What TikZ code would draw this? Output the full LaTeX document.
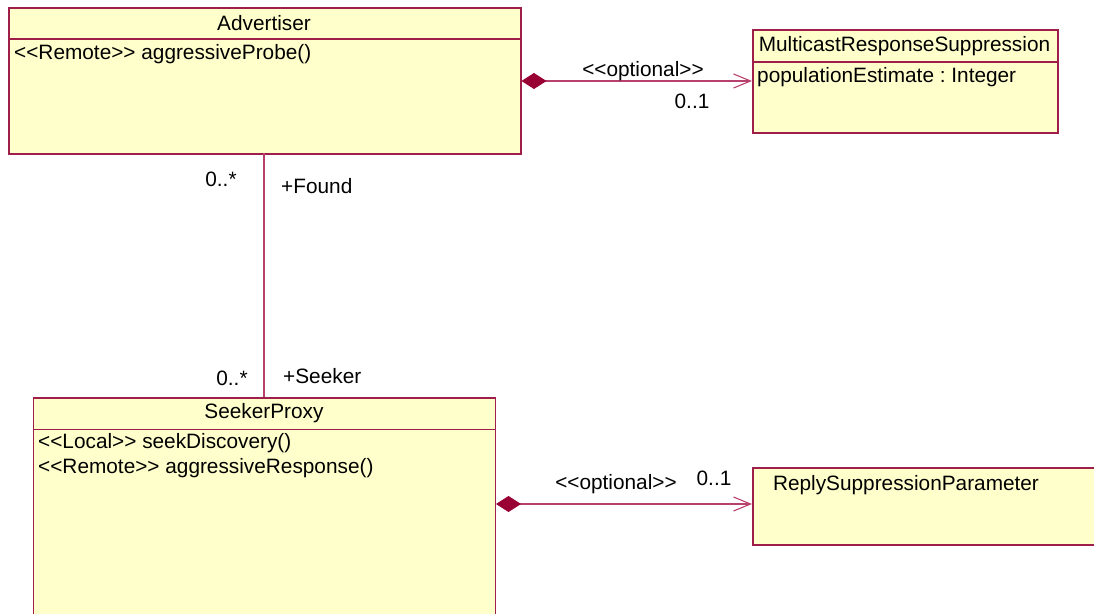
\documentclass[tikz,border=0pt]{standalone}
\usepackage{fontspec}
\setmainfont{Liberation Sans}
\usetikzlibrary{arrows.meta}
\frenchspacing
\definecolor{clsfill}{HTML}{FFFFCC}
\definecolor{clsline}{HTML}{A01E4A}
\definecolor{conline}{HTML}{B8406C}
\definecolor{diafill}{HTML}{990033}
\tikzset{
  cls/.style={draw=clsline, fill=clsfill, line width=1.5pt, anchor=north west, inner sep=0pt},
  sep/.style={draw=clsline, line width=1.2pt},
  txt/.style={inner sep=0pt, font=\fontsize{20.8}{24}\selectfont, text=black},
  lefttxt/.style={txt, anchor=west},
  comp/.style={draw=conline, line width=1.1pt,
    {Diamond[fill=diafill, color=diafill, length=25pt, width=16pt]}-{Straight Barb[length=17pt, width=14pt, line width=1.1pt]}},
  assoc/.style={draw=conline, line width=1.1pt}
}
\begin{document}
\begin{tikzpicture}[x=1pt, y=-1pt]
\useasboundingbox (0,0) rectangle (1094,613);
% Advertiser
\node[cls, minimum width=512pt, minimum height=146pt] (adv) at (8,7) {};
\draw[sep] (8,39) -- (520,39);
\node[txt] (advt) at (264,23) {Advertiser};
\node[lefttxt] (advo) at (14,54) {<{}<Remote>{}> aggressiveProbe()};
% MulticastResponseSuppression
\node[cls, minimum width=305pt, minimum height=103pt] (mrs) at (752,29) {};
\draw[sep] (752,62) -- (1057,62);
\node[txt] (mrst) at (904.5,46) {MulticastResponseSuppression};
\node[lefttxt] (mrsa) at (757,77) {populationEstimate : Integer};
% SeekerProxy
\node[cls, minimum width=462pt, minimum height=230pt] (sp) at (32.5,397) {};
\draw[sep] (32.5,429.5) -- (494.5,429.5);
\node[txt] (spt) at (264,413) {SeekerProxy};
\node[lefttxt] (spo1) at (38,443) {<{}<Local>{}> seekDiscovery()};
\node[lefttxt] (spo2) at (38,468) {<{}<Remote>{}> aggressiveResponse()};
% ReplySuppressionParameter
\node[cls, minimum width=360pt, minimum height=77pt] (rsp) at (752,467) {};
\node[txt] (rspt) at (906,485) {ReplySuppressionParameter};
% connectors
\coordinate (c1a) at (adv.east |- 0,81);
\coordinate (c1b) at (mrs.west |- 0,81);
\draw[comp] (c1a) -- (c1b);
\node[txt] (l1) at (643,71) {<{}<optional>{}>};
\node[txt] (m1) at (692,101) {0..1};
\coordinate (c2a) at (sp.east |- 0,504);
\coordinate (c2b) at (rsp.west |- 0,504);
\draw[comp] (c2a) -- (c2b);
\node[txt] (l2) at (616,484) {<{}<optional>{}>};
\node[txt] (m2) at (714,478) {0..1};
\coordinate (v1) at (264,153);
\coordinate (v2) at (264,397);
\draw[assoc] (v1) -- (v2);
\node[txt] (m3) at (221,179) {0..*};
\node[lefttxt] (r1) at (281,186) {+Found};
\node[txt] (m4) at (232,378) {0..*};
\node[lefttxt] (r2) at (283,376) {+Seeker};
\end{tikzpicture}
\end{document}
